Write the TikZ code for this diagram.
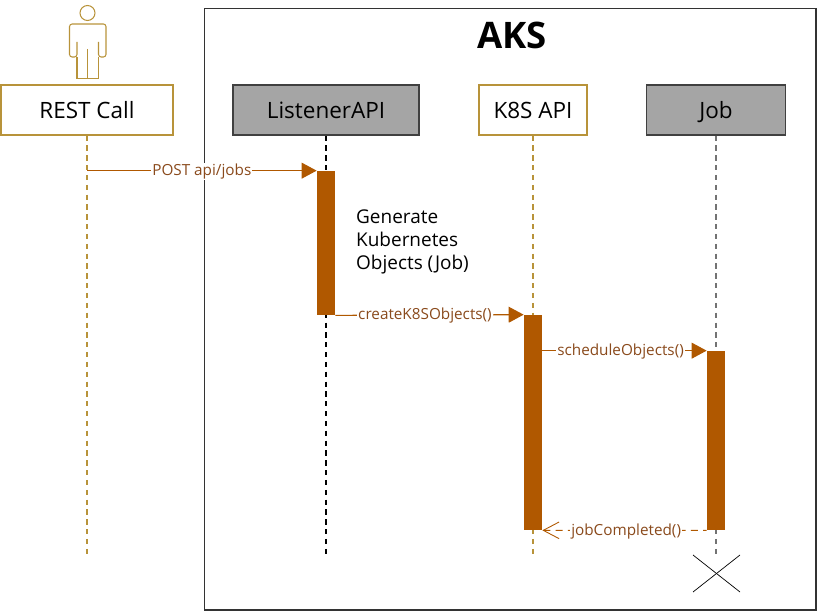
\documentclass[tikz,border=0pt]{standalone}
\usepackage{fontspec}
\setmainfont{Open Sans}
\usetikzlibrary{arrows.meta}

\definecolor{gold}{HTML}{B8933A}
\definecolor{rust}{HTML}{B05800}
\definecolor{labelbrown}{HTML}{8A4A1C}
\definecolor{boxgray}{HTML}{A5A5A5}

\begin{document}
\begin{tikzpicture}[
  x=0.02cm, y=-0.02cm,
  every node/.style={inner sep=1pt},
  actor/.style={draw=gold, fill=white, line width=0.65pt, minimum height=1cm, text height=9.5pt, text depth=0pt, font=\fontsize{12.8}{16}\selectfont},
  system/.style={draw=black!75, fill=boxgray, line width=0.65pt, minimum height=1cm, text height=9.5pt, text depth=0pt, font=\fontsize{12.8}{16}\selectfont},
  bar/.style={draw=none, fill=rust, minimum width=0.36cm, inner sep=0pt},
  lifeline/.style={line width=0.6pt, dash pattern=on 3pt off 2.6pt},
  call/.style={draw=rust, line width=0.6pt, -{Triangle[length=8.5pt,width=9pt]}},
  reply/.style={draw=rust, line width=0.5pt, dash pattern=on 4pt off 3pt, dash phase=2pt, -{Straight Barb[length=9pt,width=9.5pt]}},
  msg/.style={fill=white, text=labelbrown, inner sep=0.5pt, yshift=-0.4pt, font=\fontsize{8.7}{10}\selectfont}]

  \useasboundingbox (0,0) rectangle (821,611);

  % ---- frame --------------------------------------------------------------
  \draw[line width=0.8pt, draw=black!80] (204.5,8.5) rectangle (816,610);
  \node[font=\bfseries\fontsize{20.8}{24}\selectfont] (title) at (512,35) {AKS};

  % ---- person -------------------------------------------------------------
  \node[circle, draw=gold, line width=0.6pt, minimum size=0.3cm, inner sep=0pt] (head) at (87.5,13) {};
  \draw[draw=gold, line width=0.6pt, rounded corners=1.5pt]
    (77,42) -- (77,57) -- (69.5,57) -- (69.5,24) -- (106,24) -- (106,57) -- (98.5,57) -- (98.5,42);
  \draw[draw=gold, line width=0.6pt]
    (77,57) -- (77,78.5) -- (98.5,78.5) -- (98.5,57)
    (87.5,49) -- (87.5,78.5);

  % ---- heads --------------------------------------------------------------
  \node[actor, minimum width=3.44cm]  (rest)     at (87,110)  {REST Call};
  \node[system, minimum width=3.72cm] (listener) at (326,110) {ListenerAPI};
  \node[actor, minimum width=2.16cm]  (k8s)      at (533,110) {K8S API};
  \node[system, minimum width=2.78cm] (job)      at (716,110) {Job};

  % ---- lifelines ----------------------------------------------------------
  \coordinate (restend)     at (87,555);
  \coordinate (listenerend) at (326,555);
  \coordinate (k8send)      at (533,555);
  \coordinate (jobend)      at (716,555);
  \draw[lifeline, draw=gold]    (rest)     -- (restend);
  \draw[lifeline, draw=black]   (listener) -- (listenerend);
  \draw[lifeline, draw=gold]    (k8s)      -- (k8send);
  \draw[lifeline, draw=black!55] (job)     -- (jobend);

  % ---- activations --------------------------------------------------------
  \node[bar, minimum height=2.88cm] (listenerbar) at (326,243)   {};
  \node[bar, minimum height=4.3cm]  (k8sbar)      at (533,422.5) {};
  \node[bar, minimum height=3.58cm] (jobbar)      at (716,440.5) {};

  \node[align=left, font=\fontsize{10.8}{13.1}\selectfont] (note) at (412.5,242) {Generate\\Kubernetes\\Objects (Job)};

  % ---- messages -----------------------------------------------------------
  \coordinate (reststart) at (rest.south |- listenerbar.north);
  \draw[call]  (reststart) -- node[msg, pos=0.5] {POST api/jobs} (listenerbar.north west);
  \draw[call]  (listenerbar.south east) -- node[msg, pos=0.476] {createK8SObjects()} (k8sbar.north west);
  \draw[call]  (k8sbar.east |- jobbar.north) -- node[msg, pos=0.476] {scheduleObjects()} (jobbar.north west);
  \draw[reply] (jobbar.south west) -- node[msg, pos=0.49] {jobCompleted()} (k8sbar.south east);

  % ---- end of job ---------------------------------------------------------
  \coordinate (crossa) at (693,555);
  \coordinate (crossb) at (740,592);
  \coordinate (crossc) at (740,555);
  \coordinate (crossd) at (693,592);
  \draw[line width=0.4pt] (crossa) -- (crossb);
  \draw[line width=0.4pt] (crossc) -- (crossd);
\end{tikzpicture}
\end{document}
